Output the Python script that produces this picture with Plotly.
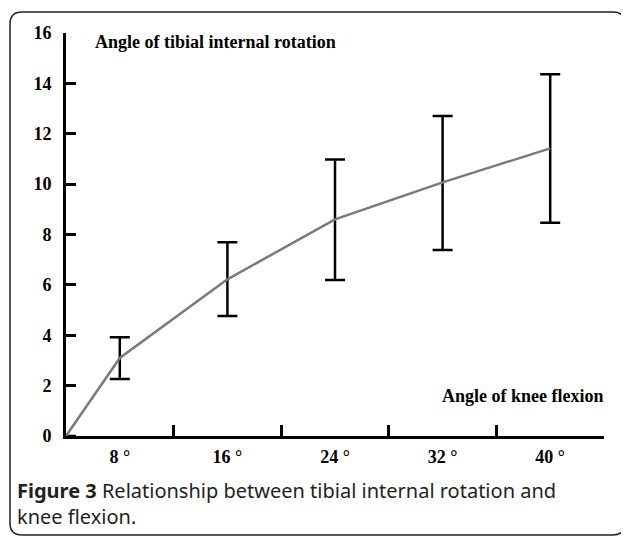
import plotly.graph_objects as go

categories = ["8 °", "16 °", "24 °", "32 °", "40 °"]
means = [3.1, 6.22, 8.6, 10.07, 11.42]
upper = [3.92, 7.69, 10.98, 12.7, 14.36]
lower = [2.26, 4.76, 6.19, 7.38, 8.47]
y_ticks = [0, 2, 4, 6, 8, 10, 12, 14, 16]

OFF = 8  # default page body margin
W, H = 629 - OFF, 536 - OFF
L, T = 66 - OFF, 33 - OFF
pw, ph = 538, 403
R = W - L - pw
B = H - T - ph

def px(x):
    return (x - OFF - L) / pw

def py(y):
    return (T + ph - (y - OFF)) / ph

xpos = [0] + [i + 0.5 for i in range(len(categories))]
yvals = [0] + means
err_plus = [0] + [u - m for u, m in zip(upper, means)]
err_minus = [0] + [m - l for m, l in zip(means, lower)]

fig = go.Figure()
fig.add_trace(go.Scatter(
    x=xpos, y=yvals, mode="lines",
    line=dict(color="#7a7a7a", width=2.5),
    error_y=dict(type="data", symmetric=False, array=err_plus, arrayminus=err_minus,
                 color="black", thickness=2.5, width=10),
    showlegend=False, hoverinfo="skip",
))
fig.add_trace(go.Scatter(x=[i + 0.5 for i in range(len(categories))], y=means,
                         xaxis="x2", mode="none", showlegend=False, hoverinfo="skip"))

serif = "Liberation Serif, Times New Roman, serif"

fig.update_layout(
    width=W, height=H,
    margin=dict(l=L, r=R, t=T, b=B, autoexpand=False),
    paper_bgcolor="white", plot_bgcolor="white",
    xaxis=dict(range=[0, 5], tickvals=[1, 2, 3, 4, 5], ticktext=["", "", "", "", ""],
               ticks="inside", ticklen=11, tickwidth=2.5, tickcolor="black",
               showline=True, linecolor="black", linewidth=3, showgrid=False,
               zeroline=False),
    xaxis2=dict(range=[0, 5], overlaying="x", side="bottom",
                tickvals=[i + 0.5 for i in range(len(categories))], ticktext=categories,
                ticks="", showline=False, showgrid=False, zeroline=False,
                ticklabelstandoff=8,
                tickfont=dict(family=serif, size=18, color="black", weight="bold")),
    yaxis=dict(range=[0, 16], tickvals=y_ticks, ticktext=[str(v) for v in y_ticks],
               ticks="inside", ticklen=10, tickwidth=2.5, tickcolor="black",
               showline=True, linecolor="black", linewidth=3, showgrid=False,
               zeroline=False, ticklabelstandoff=8,
               tickfont=dict(family=serif, size=18, color="black", weight="bold")),
)

fig.add_annotation(text="<b>Angle of tibial internal rotation</b>", xref="paper", yref="paper",
                   x=px(93), y=py(42), xanchor="left", yanchor="middle", showarrow=False,
                   font=dict(family=serif, size=18, color="black"))
fig.add_annotation(text="<b>Angle of knee flexion</b>", xref="paper", yref="paper",
                   x=px(606), y=py(396), xanchor="right", yanchor="middle", showarrow=False,
                   font=dict(family=serif, size=18, color="black"))
fig.add_annotation(text="<b>Figure 3</b> Relationship between tibial internal rotation and<br>knee flexion.",
                   xref="paper", yref="paper", x=px(15), y=py(475), xanchor="left", yanchor="top",
                   align="left", showarrow=False,
                   font=dict(family="Noto Sans, Open Sans, sans-serif", size=20, color="#231f20"))

# rounded frame
x0, x1, y0, y1, r = 10, 625, 12, 535, 12
path = (f"M {px(x0)},{py(y0 + r)} Q {px(x0)},{py(y0)} {px(x0 + r)},{py(y0)} "
        f"L {px(x1 - r)},{py(y0)} Q {px(x1)},{py(y0)} {px(x1)},{py(y0 + r)} "
        f"L {px(x1)},{py(y1 - r)} Q {px(x1)},{py(y1)} {px(x1 - r)},{py(y1)} "
        f"L {px(x0 + r)},{py(y1)} Q {px(x0)},{py(y1)} {px(x0)},{py(y1 - r)} Z")
fig.add_shape(type="path", path=path, xref="paper", yref="paper",
              line=dict(color="#222222", width=1.5))

fig.write_html("out.html")
